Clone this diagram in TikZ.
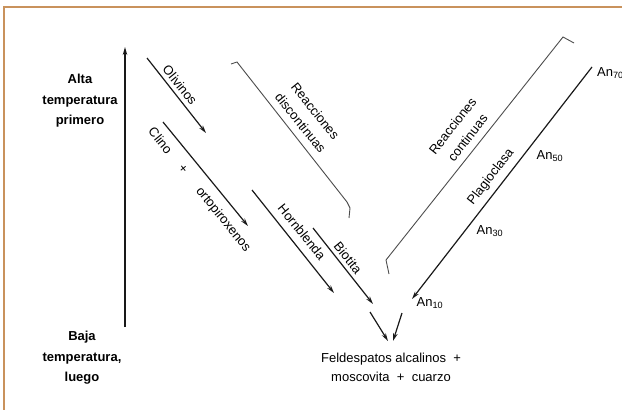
\documentclass[tikz,border=0pt]{standalone}
\usepackage{fontspec}
\setmainfont{Liberation Sans}
\usetikzlibrary{arrows.meta}
\tikzset{
  arr/.style={-{Stealth[length=8pt,width=4.5pt]}, line width=1.2pt, draw=black!90},
  brk/.style={line width=0.9pt, draw=black!70},
  lbl/.style={font=\fontsize{13}{19}\selectfont, inner sep=0pt, align=center, text=black},
  side/.style={lbl, font=\fontsize{13}{20.5}\selectfont\bfseries},
  frame/.style={line width=2pt, draw=frameor}
}
\definecolor{frameor}{RGB}{201,146,92}
\begin{document}
\begin{tikzpicture}[x=1pt,y=-1pt]
\useasboundingbox (0,0) rectangle (622,410);
% frame
\coordinate (fA) at (4,410);
\coordinate (fB) at (4,6.5);
\coordinate (fC) at (622,6.5);
\draw[frame] (fA) -- (fB) -- (fC);
% vertical arrow
\coordinate (vb) at (125,327);
\coordinate (vt) at (125,47);
\draw[arr] (vb) -- (vt);
\node[side] (alta) at (80,101) {Alta\\temperatura\\primero};
\node[side] (baja) at (82,358) {Baja\\temperatura,\\luego};
% left descending arrows
\coordinate (o1) at (147,58);
\coordinate (o2) at (206,133);
\draw[arr] (o1) -- (o2);
\node[lbl, rotate=-51] (oliv) at (180,85) {Olivinos};
\coordinate (c1) at (163,122);
\coordinate (c2) at (248,226);
\draw[arr] (c1) -- (c2);
\node[lbl, rotate=-51] (clino) at (199,190) {Clino\hspace{18pt}+\hspace{21pt}ortopiroxenos};
\coordinate (h1) at (252,190);
\coordinate (h2) at (334,293);
\draw[arr] (h1) -- (h2);
\node[lbl, rotate=-51] (horn) at (302,232) {Hornblenda};
\coordinate (b1) at (313,228);
\coordinate (b2) at (373,304);
\draw[arr] (b1) -- (b2);
\node[lbl, rotate=-51] (biot) at (348,258) {Biotita};
% discontinuous bracket
\coordinate (d0) at (231,64);
\coordinate (d1) at (237,62);
\coordinate (d2) at (347,202);
\coordinate (d3) at (350,208);
\coordinate (d4) at (349,218);
\draw[brk] (d0) -- (d1) -- (d2) -- (d3) -- (d4);
\node[lbl, rotate=-51] (disc) at (308,117) {Reacciones\\discontinuas};
% continuous bracket
\coordinate (k0) at (389,274);
\coordinate (k1) at (386,260);
\coordinate (k2) at (563,37);
\coordinate (k3) at (574,43);
\draw[brk] (k0) -- (k1) -- (k2) -- (k3);
\node[lbl, rotate=52] (cont) at (460,132) {Reacciones\\continuas};
% plagioclase arrow
\coordinate (p1) at (592,67);
\coordinate (p2) at (412,299);
\draw[arr] (p1) -- (p2);
\node[lbl, rotate=52] (plag) at (491,177) {Plagioclasa};
\node[lbl, anchor=west] (an70) at (597,73) {An\textsubscript{70}};
\node[lbl] (an50) at (550,156) {An\textsubscript{50}};
\node[lbl] (an30) at (490,231) {An\textsubscript{30}};
\node[lbl] (an10) at (430,303) {An\textsubscript{10}};
% final V
\coordinate (v1) at (370,312);
\coordinate (v2) at (388,341);
\coordinate (v3) at (402,313);
\coordinate (v4) at (393,341);
\draw[arr] (v1) -- (v2);
\draw[arr] (v3) -- (v4);
\node[lbl] (feld) at (391,367) {Feldespatos alcalinos \ +\\moscovita \ + \ cuarzo};
\end{tikzpicture}
\end{document}
